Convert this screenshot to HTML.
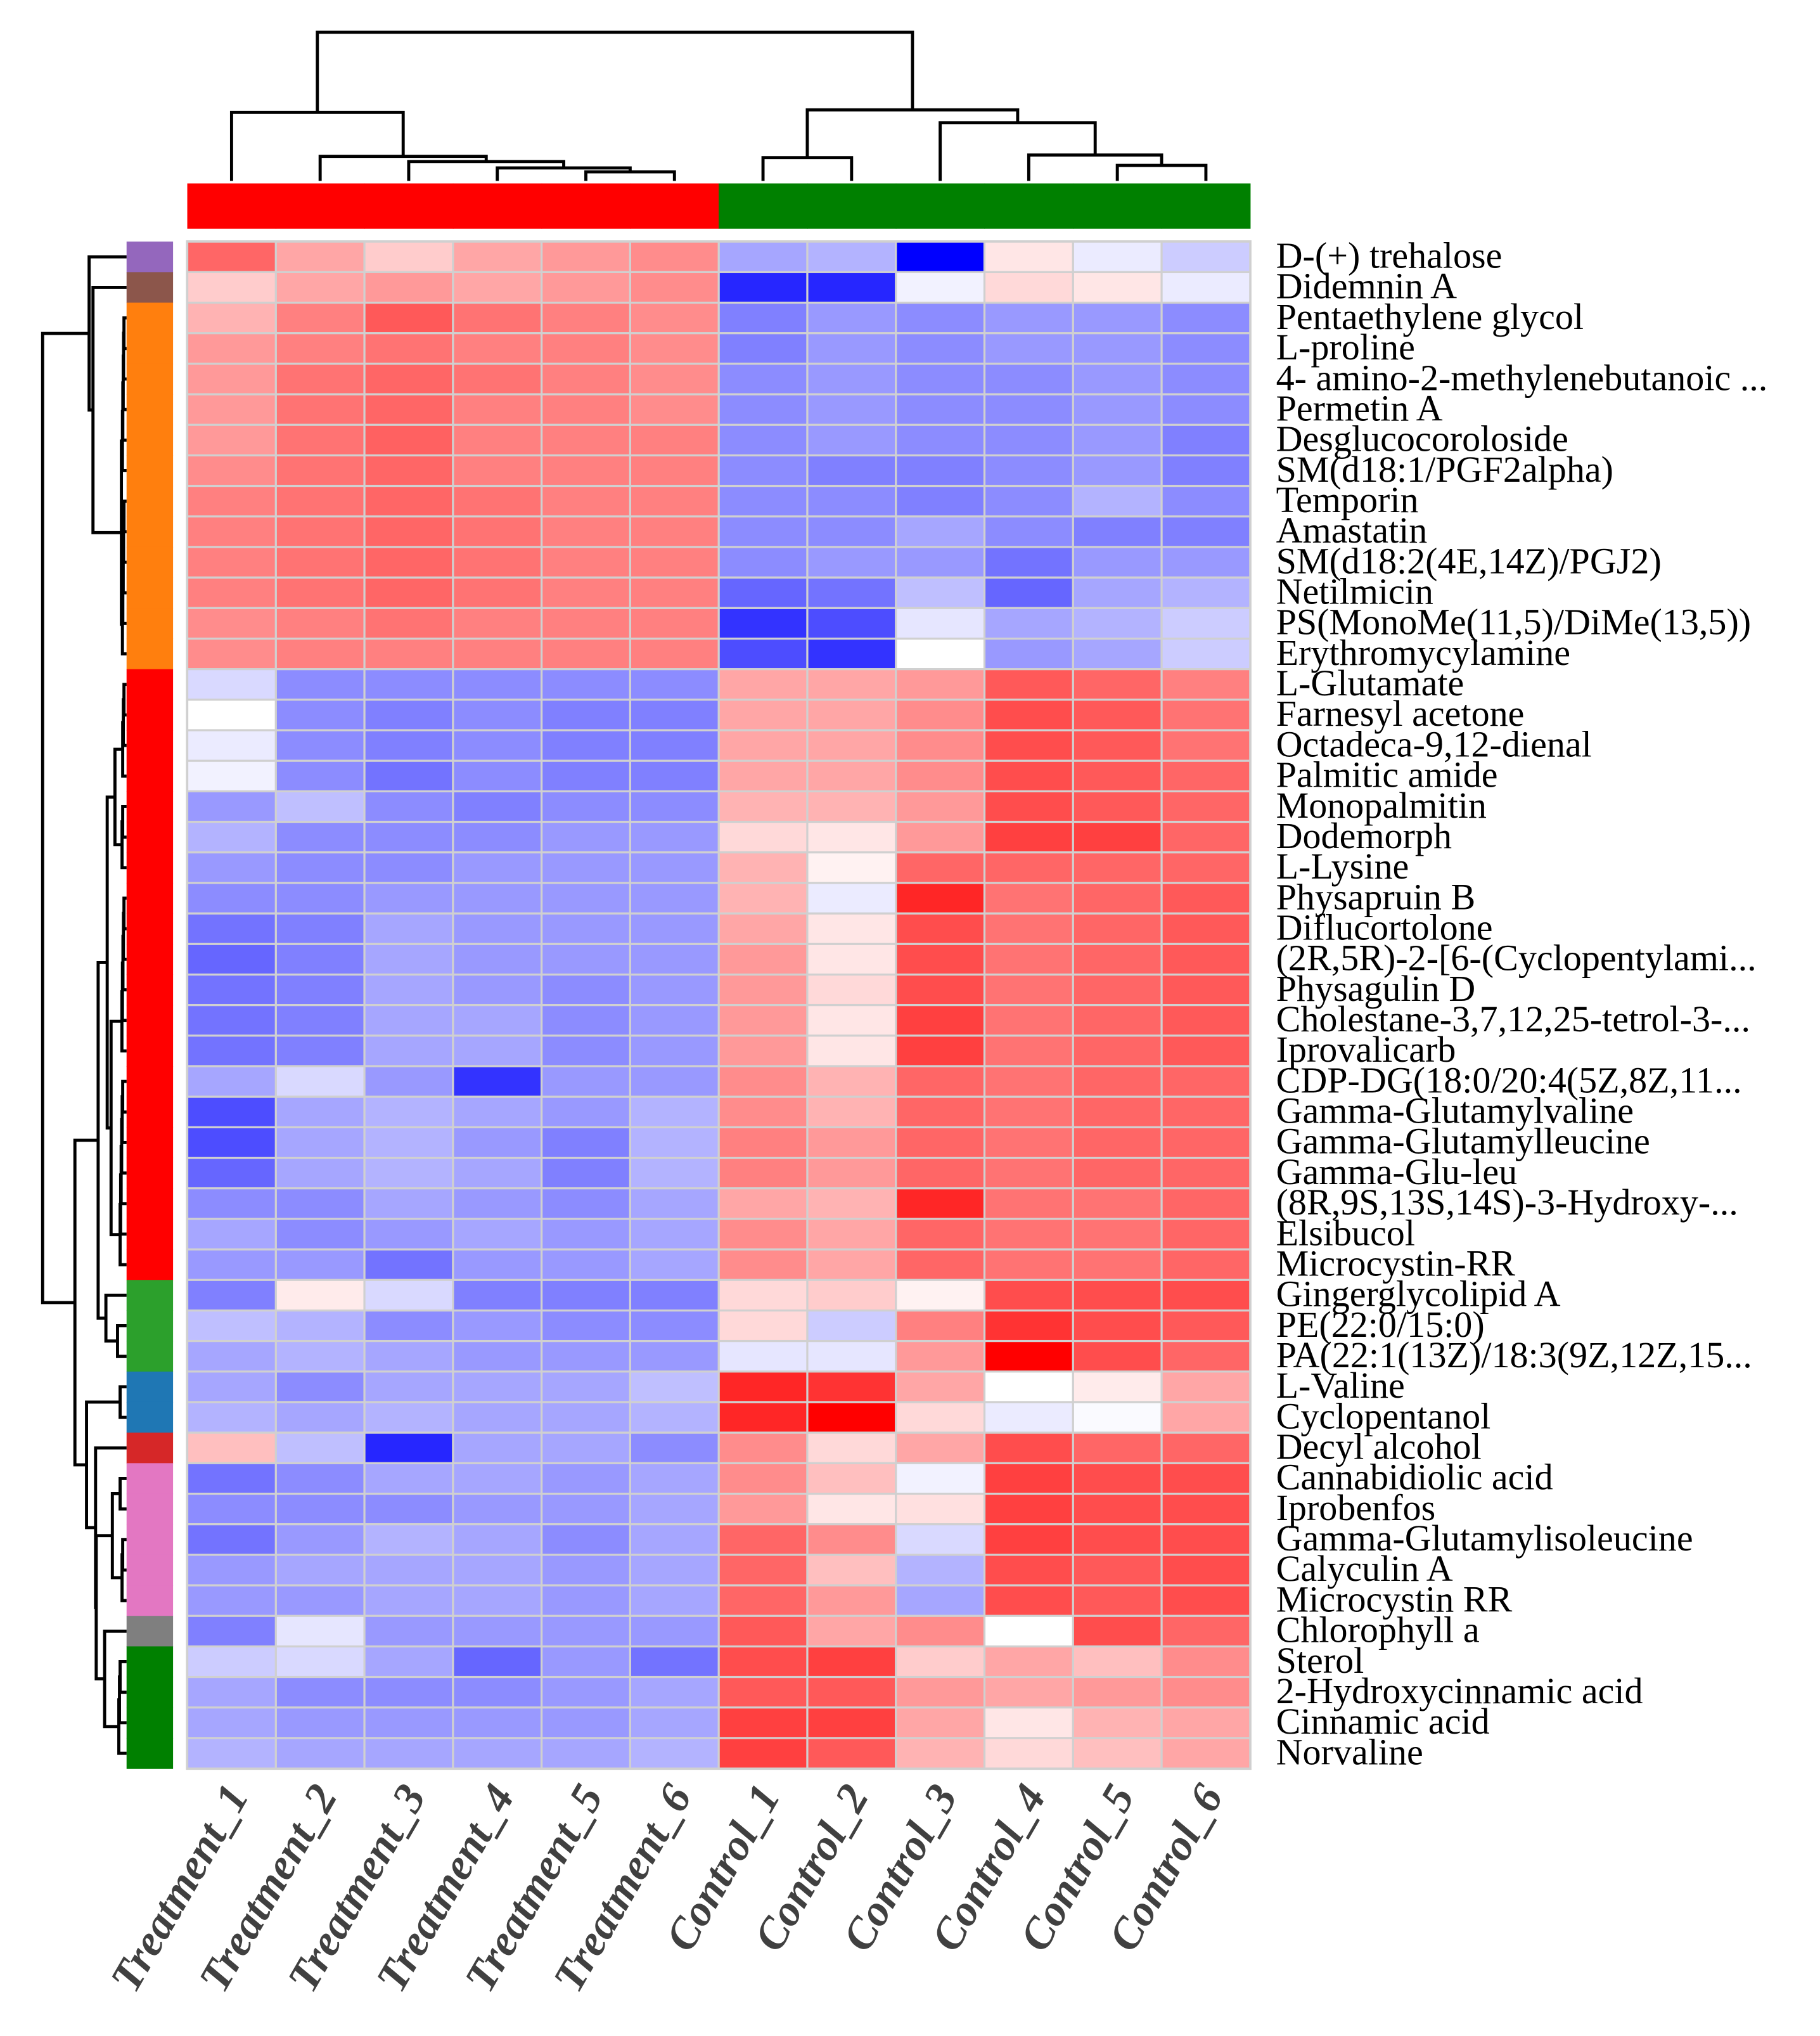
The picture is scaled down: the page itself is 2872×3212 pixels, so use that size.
<!DOCTYPE html>
<html><head><meta charset="utf-8"><style>
html,body{margin:0;padding:0;background:#fff;}
svg{display:block;}
</style></head><body>
<svg id="chart" xmlns="http://www.w3.org/2000/svg" width="2872" height="3212" viewBox="0 0 1409.2 1576">
<rect x="0" y="0" width="1409.2" height="1576" fill="#fff"/>
<g id="cells"></g>
<g id="rowann"></g>
<g id="colann"></g>
<g id="rowdend" stroke="#000" stroke-width="2.4" fill="none"></g>
<g id="coldend" stroke="#000" stroke-width="2.4" fill="none"></g>
<g id="rowlabels"></g>
<g id="collabels"></g>
</svg>
<script>
const samples = ["Treatment_1","Treatment_2","Treatment_3","Treatment_4","Treatment_5","Treatment_6","Control_1","Control_2","Control_3","Control_4","Control_5","Control_6"];
const sampleGroups = ["T","T","T","T","T","T","C","C","C","C","C","C"];
const metabolites = ["D-(+) trehalose","Didemnin A","Pentaethylene glycol","L-proline","4- amino-2-methylenebutanoic ...","Permetin A","Desglucocoroloside","SM(d18:1/PGF2alpha)","Temporin","Amastatin","SM(d18:2(4E,14Z)/PGJ2)","Netilmicin","PS(MonoMe(11,5)/DiMe(13,5))","Erythromycylamine","L-Glutamate","Farnesyl acetone","Octadeca-9,12-dienal","Palmitic amide","Monopalmitin","Dodemorph","L-Lysine","Physapruin B","Diflucortolone","(2R,5R)-2-[6-(Cyclopentylami...","Physagulin D","Cholestane-3,7,12,25-tetrol-3-...","Iprovalicarb","CDP-DG(18:0/20:4(5Z,8Z,11...","Gamma-Glutamylvaline","Gamma-Glutamylleucine","Gamma-Glu-leu","(8R,9S,13S,14S)-3-Hydroxy-...","Elsibucol","Microcystin-RR","Gingerglycolipid A","PE(22:0/15:0)","PA(22:1(13Z)/18:3(9Z,12Z,15...","L-Valine","Cyclopentanol","Decyl alcohol","Cannabidiolic acid","Iprobenfos","Gamma-Glutamylisoleucine","Calyculin A","Microcystin RR","Chlorophyll a","Sterol","2-Hydroxycinnamic acid","Cinnamic acid","Norvaline"];
const rowClusters = [0,1,2,2,2,2,2,2,2,2,2,2,2,2,3,3,3,3,3,3,3,3,3,3,3,3,3,3,3,3,3,3,3,3,4,4,4,5,5,6,7,7,7,7,7,8,9,9,9,9];
const clusterColors = ["#9467bd","#8c564b","#ff7f0e","#ff0000","#2ca02c","#1f77b4","#d62728","#e377c2","#7f7f7f","#008000"];
const values = [
[.6,.35,.2,.35,.4,.45,-.35,-.3,-1,.1,-.08,-.2],
[.2,.35,.4,.35,.4,.45,-.85,-.85,-.05,.15,.1,-.08],
[.3,.5,.65,.55,.5,.45,-.5,-.4,-.45,-.4,-.4,-.45],
[.4,.5,.55,.5,.5,.45,-.5,-.4,-.45,-.4,-.4,-.45],
[.4,.55,.6,.55,.5,.45,-.45,-.4,-.45,-.45,-.4,-.45],
[.4,.55,.6,.5,.5,.45,-.45,-.4,-.45,-.45,-.4,-.45],
[.4,.55,.62,.5,.5,.5,-.45,-.4,-.45,-.45,-.4,-.5],
[.45,.55,.6,.5,.5,.5,-.45,-.5,-.5,-.45,-.4,-.5],
[.5,.55,.6,.55,.5,.5,-.45,-.45,-.5,-.45,-.3,-.45],
[.5,.55,.6,.55,.5,.5,-.45,-.45,-.35,-.45,-.5,-.5],
[.5,.55,.6,.55,.5,.5,-.45,-.4,-.4,-.55,-.4,-.4],
[.5,.55,.6,.55,.5,.5,-.6,-.55,-.25,-.6,-.35,-.3],
[.45,.5,.55,.5,.5,.5,-.8,-.7,-.1,-.35,-.3,-.2],
[.45,.5,.5,.5,.5,.5,-.7,-.8,0,-.4,-.35,-.2],
[-.15,-.45,-.45,-.45,-.45,-.45,.35,.35,.4,.65,.6,.5],
[0,-.45,-.5,-.45,-.5,-.5,.35,.35,.45,.7,.65,.55],
[-.08,-.45,-.5,-.45,-.5,-.5,.35,.35,.45,.7,.65,.55],
[-.05,-.45,-.55,-.45,-.5,-.5,.35,.35,.45,.7,.65,.6],
[-.4,-.25,-.45,-.5,-.45,-.45,.3,.3,.4,.7,.65,.6],
[-.3,-.45,-.45,-.45,-.4,-.4,.15,.1,.4,.75,.75,.6],
[-.4,-.45,-.45,-.4,-.4,-.4,.3,.05,.6,.6,.6,.6],
[-.45,-.45,-.4,-.4,-.4,-.4,.3,-.08,.85,.55,.6,.65],
[-.55,-.5,-.35,-.4,-.4,-.4,.35,.1,.7,.55,.6,.65],
[-.6,-.5,-.35,-.4,-.4,-.4,.4,.1,.7,.55,.6,.65],
[-.55,-.5,-.35,-.4,-.45,-.4,.4,.15,.7,.55,.6,.65],
[-.55,-.5,-.35,-.35,-.45,-.4,.4,.1,.75,.55,.6,.65],
[-.55,-.5,-.35,-.35,-.45,-.4,.4,.1,.75,.55,.6,.65],
[-.35,-.15,-.4,-.8,-.4,-.4,.45,.3,.6,.55,.6,.6],
[-.7,-.35,-.3,-.35,-.4,-.3,.45,.3,.6,.55,.6,.6],
[-.7,-.35,-.3,-.4,-.5,-.3,.5,.4,.6,.55,.6,.6],
[-.6,-.35,-.3,-.35,-.5,-.3,.5,.4,.6,.55,.6,.6],
[-.45,-.45,-.35,-.4,-.45,-.35,.35,.3,.85,.55,.55,.6],
[-.35,-.45,-.4,-.35,-.4,-.35,.45,.35,.6,.55,.55,.6],
[-.4,-.4,-.55,-.4,-.4,-.35,.45,.35,.6,.55,.55,.6],
[-.5,.08,-.15,-.5,-.5,-.5,.15,.2,.05,.7,.7,.7],
[-.25,-.3,-.45,-.4,-.45,-.45,.15,-.2,.5,.8,.7,.65],
[-.35,-.3,-.35,-.4,-.4,-.4,-.1,-.1,.4,1,.7,.6],
[-.35,-.45,-.35,-.35,-.35,-.25,.85,.8,.35,0,.08,.35],
[-.3,-.35,-.3,-.35,-.35,-.3,.85,1,.15,-.08,-.02,.35],
[.25,-.25,-.85,-.35,-.35,-.45,.45,.15,.35,.7,.6,.6],
[-.55,-.45,-.35,-.35,-.4,-.35,.45,.25,-.05,.75,.7,.7],
[-.45,-.45,-.45,-.4,-.4,-.35,.4,.1,.12,.75,.7,.7],
[-.55,-.4,-.3,-.35,-.45,-.35,.6,.45,-.15,.75,.7,.7],
[-.4,-.35,-.35,-.35,-.4,-.35,.6,.25,-.3,.7,.65,.7],
[-.4,-.4,-.35,-.35,-.4,-.35,.6,.4,-.35,.7,.65,.7],
[-.5,-.1,-.4,-.4,-.4,-.4,.65,.35,.45,0,.7,.6],
[-.2,-.15,-.35,-.6,-.4,-.55,.7,.75,.2,.35,.25,.45],
[-.35,-.45,-.45,-.45,-.4,-.35,.65,.65,.4,.35,.4,.45],
[-.35,-.4,-.4,-.4,-.4,-.35,.75,.75,.35,.1,.3,.35],
[-.3,-.35,-.35,-.35,-.35,-.3,.75,.65,.3,.15,.25,.35]
];

const NS="http://www.w3.org/2000/svg";
const X0=145, X1=968, Y0=187, Y1=1369;
const cw=(X1-X0)/samples.length, rh=(Y1-Y0)/metabolites.length;
const xCol=i=>X0+cw*i, yRow=r=>Y0+rh*r;
const cx=i=>xCol(i)+cw/2, cy=r=>yRow(r)+rh/2;
function color(v){v=Math.max(-1,Math.min(1,v));
 if(v>=0){const g=Math.round(255*(1-v));return `rgb(255,${g},${g})`;}
 const g=Math.round(255*(1+v));return `rgb(${g},${g},255)`;}
function mk(tag,attrs,parent){const e=document.createElementNS(NS,tag);for(const k in attrs)e.setAttribute(k,attrs[k]);parent.appendChild(e);return e;}

const cells=document.getElementById('cells');
mk('rect',{x:X0-1,y:Y0-1,width:X1-X0+2,height:Y1-Y0+2,fill:'#d0d0d0'},cells);
values.forEach((row,r)=>row.forEach((v,c)=>{
 const e=mk('rect',{x:xCol(c)+0.8,y:yRow(r)+0.8,width:cw-1.6,height:rh-1.6,fill:color(v)},cells);
 
 
}));

const ra=document.getElementById('rowann');
rowClusters.forEach((k,r)=>{
 const e=mk('rect',{x:98,y:yRow(r),width:36,height:rh+0.3,fill:clusterColors[k]},ra);
 
 
});
const ca=document.getElementById('colann');
sampleGroups.forEach((g,i)=>{
 const e=mk('rect',{x:xCol(i),y:142,width:cw+0.3,height:35,fill:g==='T'?'#ff0000':'#008000'},ca);
 
 
});

const rl=document.getElementById('rowlabels');
metabolites.forEach((m,r)=>{
 const t=mk('text',{x:988,y:cy(r)+8.5,'font-family':'"Liberation Serif",serif','font-size':28.5,fill:'#000'},rl);
 t.textContent=m;
 
 
});
const cl=document.getElementById('collabels');
samples.forEach((s,i)=>{
 const x=cx(i)+14,y=1390;
 const t=mk('text',{x:x,y:y,'text-anchor':'end',transform:`rotate(-60 ${x} ${y})`,'font-family':'"Liberation Serif",serif','font-size':34,'font-weight':'bold','font-style':'italic',fill:'#404040'},cl);
 t.textContent=s;
 
 
});

function N(l,r,h){return {l,r,h};}
function chain(a,b,h,step){let n=a;let hh=h;for(let i=a+1;i<=b;i++){n=N(n,i,hh);hh-=step;}return n;}
function pair(a,b,h){return N(a,b,h);}
const orange=N(chain(2,7,96,0.3),chain(8,13,96,0.3),94);
const redA=N(N(chain(14,17,96,0.5),chain(18,20,95,0.5),89),N(chain(21,26,96,0.4),chain(27,33,95,0.4),86),83);
const green1=N(34,pair(35,36,91),82);
const bottom1=N(redA,green1,76);
const pinkT=N(pair(40,41,93),chain(42,44,95,0.5),87);
const ggT=N(45,chain(46,49,93,0.5),81);
const lower=N(pair(37,38,93),N(39,N(pinkT,ggT,74.5),74),67);
const rowTree=N(N(0,N(1,orange,72),69),N(bottom1,lower,58),33);
const rd=document.getElementById('rowdend');
function drawRow(n){
 if(typeof n==='number')return {p:cy(n),h:98};
 const a=drawRow(n.l),b=drawRow(n.r);
 mk('path',{d:`M${a.h},${a.p}H${n.h}V${b.p}H${b.h}`},rd);
 return {p:(a.p+b.p)/2,h:n.h};
}
drawRow(rowTree);
const colTree=N(N(0,N(1,N(2,N(3,N(4,5,133),130),125),121),87),N(N(6,7,122),N(8,N(9,N(10,11,128),120),95),85),25);
const cd=document.getElementById('coldend');
function drawCol(n){
 if(typeof n==='number')return {p:cx(n),h:140};
 const a=drawCol(n.l),b=drawCol(n.r);
 mk('path',{d:`M${a.p},${a.h}V${n.h}H${b.p}V${b.h}`},cd);
 return {p:(a.p+b.p)/2,h:n.h};
}
drawCol(colTree);
</script>
</body></html>
